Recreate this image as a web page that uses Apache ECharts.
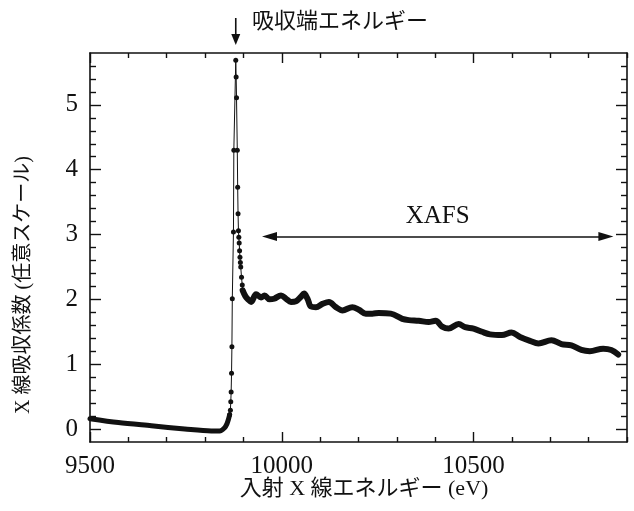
<!DOCTYPE html>
<html>
<head>
<meta charset="utf-8">
<script src="https://cdn.jsdelivr.net/npm/echarts@6/dist/echarts.min.js"></script>
<style>
html,body{margin:0;padding:0;background:#fff;}
#c{width:634px;height:511px;}
</style>
</head>
<body>
<div id="c"></div>
<script>
// ---- data ----
const preEdgeE  = [9500, 9574, 9660, 9747, 9816, 9838, 9851, 9857, 9861, 9864];
const preEdgeMu = [0.16, 0.10, 0.05, 0.00, -0.03, -0.03, 0.02, 0.08, 0.15, 0.22];

const edgeE  = [9864, 9866, 9867, 9868, 9869, 9870, 9871, 9874, 9875, 9880, 9881, 9882, 9884, 9885, 9886, 9887, 9888, 9889, 9890, 9891, 9892, 9893, 9895, 9897, 9898];
const edgeMu = [0.22, 0.29, 0.42, 0.57, 0.86, 1.27, 2.01, 3.04, 4.30, 5.69, 5.43, 5.11, 4.30, 3.73, 3.32, 3.06, 2.96, 2.87, 2.75, 2.65, 2.57, 2.50, 2.34, 2.22, 2.14];

const postE  = [9898, 9905, 9912, 9920, 9933, 9946, 9955, 9968, 9980, 9998, 10011, 10024, 10037, 10050, 10058, 10067, 10076, 10089, 10106, 10123, 10141, 10158, 10184, 10201, 10219, 10236, 10253, 10284, 10314, 10331, 10357, 10383, 10401, 10418, 10435, 10461, 10478, 10500, 10522, 10543, 10574, 10599, 10621, 10647, 10669, 10703, 10729, 10755, 10781, 10803, 10838, 10859, 10877];
const postMu = [2.14, 2.05, 2.00, 1.96, 2.08, 2.03, 2.06, 2.00, 2.01, 2.06, 2.01, 1.96, 1.97, 2.04, 2.09, 2.01, 1.89, 1.88, 1.93, 1.96, 1.88, 1.83, 1.88, 1.84, 1.78, 1.78, 1.79, 1.78, 1.70, 1.68, 1.67, 1.65, 1.67, 1.58, 1.55, 1.62, 1.57, 1.55, 1.50, 1.46, 1.45, 1.49, 1.42, 1.36, 1.32, 1.37, 1.31, 1.29, 1.22, 1.20, 1.24, 1.22, 1.15];

const xMajorTicks = [9500, 10000, 10500];
const xMinorTicks = [9600, 9700, 9800, 9900, 10100, 10200, 10300, 10400, 10600, 10700, 10800, 10900];
const yMajorTicks = [0, 1, 2, 3, 4, 5];
const yMinorTicks = [0.2, 0.4, 0.6, 0.8, 1.2, 1.4, 1.6, 1.8, 2.2, 2.4, 2.6, 2.8, 3.2, 3.4, 3.6, 3.8, 4.2, 4.4, 4.6, 4.8, 5.2, 5.4, 5.6];

const edgeEnergy = 9880;
const xafsRange = [9968, 10845];
const xafsLevel = 2.97;

const xTitle = '入射 X 線エネルギー (eV)';
const yTitle = 'X 線吸収係数 (任意スケール)';
const edgeNote = '吸収端エネルギー';
const xafsNote = 'XAFS';

// ---- chart ----
const ink = '#111';
const serif = '"Times New Roman", "Liberation Serif", "Noto Sans CJK JP", serif';
const chart = echarts.init(document.getElementById('c'), null, {renderer: 'canvas'});

function zip(a, b) { return a.map((v, i) => [v, b[i]]); }

function xAx(pos, ticks, len, labels, line) {
  return {
    type: 'value', position: pos, min: 9500, max: 10900,
    axisLine: {show: line, onZero: false, lineStyle: {color: ink, width: 1.6}},
    axisTick: {show: true, inside: true, length: len, customValues: ticks, lineStyle: {color: ink, width: 1.4}},
    axisLabel: labels ? {show: true, customValues: ticks, formatter: v => String(v), color: ink, fontFamily: serif, fontSize: 25, margin: 12} : {show: false},
    splitLine: {show: false}
  };
}
function yAx(pos, ticks, len, labels, line) {
  return {
    type: 'value', position: pos, min: -0.2, max: 5.8,
    axisLine: {show: line, onZero: false, lineStyle: {color: ink, width: 1.6}},
    axisTick: {show: true, inside: true, length: len, customValues: ticks, lineStyle: {color: ink, width: 1.4}},
    axisLabel: labels ? {show: true, customValues: ticks, formatter: v => String(v), color: ink, fontFamily: serif, fontSize: 25, margin: 12} : {show: false},
    splitLine: {show: false}
  };
}

const option = {
  backgroundColor: '#fff',
  animation: false,
  grid: {left: 90, right: 7, top: 53, bottom: 69, containLabel: false},
  xAxis: [
    xAx('bottom', xMajorTicks, 10, true, true),
    xAx('bottom', xMinorTicks, 5, false, false),
    xAx('top', xMajorTicks, 10, false, true),
    xAx('top', xMinorTicks, 5, false, false)
  ],
  yAxis: [
    yAx('left', yMajorTicks, 11, true, true),
    yAx('left', yMinorTicks, 6, false, false),
    yAx('right', yMajorTicks, 11, false, true),
    yAx('right', yMinorTicks, 6, false, false)
  ],
  series: [
    {
      type: 'line', xAxisIndex: 0, yAxisIndex: 0,
      data: zip(preEdgeE, preEdgeMu), showSymbol: false, symbol: 'none',
      lineStyle: {color: ink, width: 5, cap: 'round', join: 'round'}, smooth: 0.3, silent: true
    },
    {
      type: 'line', xAxisIndex: 0, yAxisIndex: 0,
      data: zip(edgeE, edgeMu), symbol: 'circle', symbolSize: 5, showAllSymbol: true,
      itemStyle: {color: ink}, lineStyle: {color: ink, width: 1}, silent: true
    },
    {
      type: 'line', xAxisIndex: 0, yAxisIndex: 0,
      data: zip(postE, postMu), showSymbol: false, symbol: 'none',
      lineStyle: {color: ink, width: 6, cap: 'round', join: 'round'}, smooth: 0.35, silent: true,
      markLine: {
        silent: true, symbol: ['triangle', 'triangle'], symbolSize: [9, 15],
        label: {show: false},
        lineStyle: {color: ink, width: 1.5, type: 'solid'},
        emphasis: {disabled: true},
        data: [[{coord: [xafsRange[0], xafsLevel]}, {coord: [xafsRange[1], xafsLevel]}]]
      }
    }
  ]
};
chart.setOption(option);

const ax = chart.convertToPixel({xAxisIndex: 0}, edgeEnergy);
const xafsMid = chart.convertToPixel({xAxisIndex: 0}, (xafsRange[0] + xafsRange[1]) / 2);
const xafsY = chart.convertToPixel({yAxisIndex: 0}, xafsLevel);

chart.setOption({
  graphic: [
    {type: 'line', shape: {x1: ax, y1: 18, x2: ax, y2: 36}, style: {stroke: ink, lineWidth: 1.6}, silent: true},
    {type: 'polygon', shape: {points: [[ax - 4.5, 34], [ax + 4.5, 34], [ax, 45]]}, style: {fill: ink}, silent: true},
    {type: 'text', x: 252, y: 20, silent: true,
     style: {text: edgeNote, font: '22px "Noto Sans CJK JP"', fill: ink, align: 'left', verticalAlign: 'middle'}},
    {type: 'text', x: xafsMid, y: xafsY - 20, silent: true,
     style: {text: xafsNote, font: '25px "Times New Roman", "Liberation Serif", serif', fill: ink, align: 'center', verticalAlign: 'middle'}},
    {type: 'text', x: 364, y: 489, silent: true,
     style: {text: xTitle, font: '22px "Times New Roman", "Liberation Serif", "Noto Sans CJK JP"', fill: ink, align: 'center', verticalAlign: 'middle'}},
    {type: 'text', x: 24, y: 285, rotation: Math.PI / 2, silent: true,
     style: {text: yTitle, font: '20px "Times New Roman", "Liberation Serif", "Noto Sans CJK JP"', fill: ink, align: 'center', verticalAlign: 'middle'}}
  ]
});
</script>
</body>
</html>
